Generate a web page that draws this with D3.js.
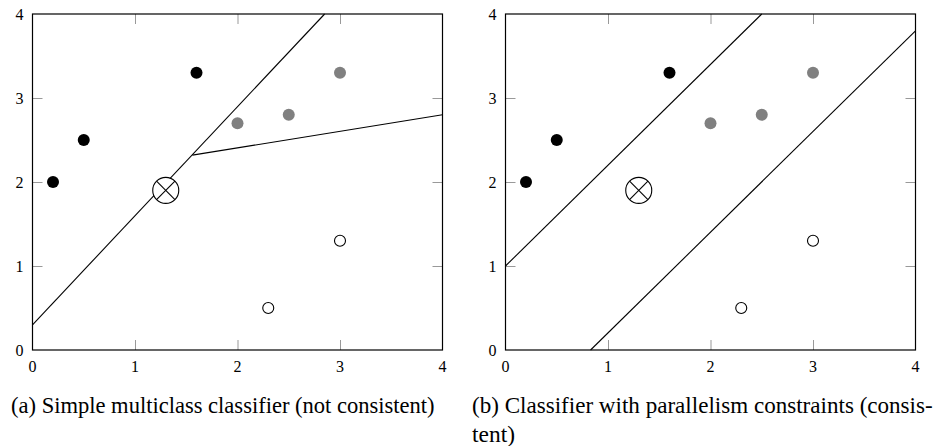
<!DOCTYPE html>
<html lang="en">
  <head>
    <title>Classifier comparison</title>
    <meta charset="utf-8" />
    <script src="https://d3js.org/d3.v7.min.js"></script>
    <style>
      body { margin: 0; background: #ffffff; }
    </style>
  </head>
  <body>
    <svg width="946" height="446" xmlns="http://www.w3.org/2000/svg" id="target" font-family="Liberation Serif"></svg>
    <script>
        // data
        const black_pts = [[0.2, 2.0], [0.5, 2.5], [1.6, 3.3]];
        const grey_pts = [[2.0, 2.7], [2.5, 2.8], [3.0, 3.3]];
        const open_pts = [[2.3, 0.5], [3.0, 1.3]];
        const query_pt = [[1.3, 1.9]];
        const ticks = [0, 1, 2, 3, 4];

        // boundaries of panel (a) and panel (b)
        const lines_a = [
          [[0, 0.3], [2.85, 4.0]],
          [[1.56, 2.32], [4.0, 2.8]]
        ];
        const lines_b = [
          [[0, 1.0], [2.5, 4.0]],
          [[0.83, 0], [4.0, 3.8]]
        ];

        const panels = [
          {left: 32.5, lines: lines_a},
          {left: 505.5, lines: lines_b}
        ];
        const plot_def = {
          width: 410,
          top: 14,
          bottom: 350,
          tick_len: 10,
          tick_color: "#999999"
        };
        const serif = "Liberation Serif";

        const svg = d3.select("#target");

        function drawPanel(p){
          const x = d3.scaleLinear().domain([0, 4]).range([p.left, p.left + plot_def.width]);
          const y = d3.scaleLinear().domain([0, 4]).range([plot_def.bottom, plot_def.top]);
          const g = svg.append("g");

          // inner tick marks on all four sides (labels drawn below)
          const axes = [
            {ax: d3.axisBottom(x), t: "translate(0," + plot_def.bottom + ")"},
            {ax: d3.axisTop(x), t: "translate(0," + plot_def.top + ")"},
            {ax: d3.axisLeft(y), t: "translate(" + p.left + ",0)"},
            {ax: d3.axisRight(y), t: "translate(" + (p.left + plot_def.width) + ",0)"}
          ];
          axes.forEach(a => {
            const ag = g.append("g")
              .attr("transform", a.t)
              .call(a.ax
                .tickValues(ticks.filter(d => d > 0 && d < 4))
                .tickSizeInner(-plot_def.tick_len)
                .tickSizeOuter(0))
            ;
            ag.select(".domain").remove();
            ag.selectAll(".tick text").remove();
            ag.selectAll(".tick line").attr("stroke", plot_def.tick_color).attr("stroke-width", 1);
          });

          g.selectAll("text.xl")
            .data(ticks).enter().append("text")
            .attr("class", "xl")
            .attr("x", d => x(d)).attr("y", plot_def.bottom + 22)
            .attr("text-anchor", "middle")
            .attr("font-family", serif).attr("font-size", 16)
            .attr("fill", "#000")
            .text(d => d);

          g.selectAll("text.yl")
            .data(ticks).enter().append("text")
            .attr("class", "yl")
            .attr("x", p.left - 9).attr("y", d => y(d) + 5.5)
            .attr("text-anchor", "end")
            .attr("font-family", serif).attr("font-size", 16)
            .attr("fill", "#000")
            .text(d => d);

          g.append("rect")
            .attr("x", x(0)).attr("y", y(4))
            .attr("width", x(4) - x(0)).attr("height", y(0) - y(4))
            .attr("fill", "none").attr("stroke", "#000").attr("stroke-width", 1.2);

          g.selectAll("line.bound")
            .data(p.lines)
            .enter()
            .append("line")
            .attr("class", "bound")
            .attr("x1", d => x(d[0][0])).attr("y1", d => y(d[0][1]))
            .attr("x2", d => x(d[1][0])).attr("y2", d => y(d[1][1]))
            .attr("stroke", "#000").attr("stroke-width", 1.1);

          g.selectAll("circle.blk")
            .data(black_pts).enter().append("circle")
            .attr("cx", d => x(d[0])).attr("cy", d => y(d[1]))
            .attr("r", 6).attr("fill", "#000");

          g.selectAll("circle.gry")
            .data(grey_pts).enter().append("circle")
            .attr("cx", d => x(d[0])).attr("cy", d => y(d[1]))
            .attr("r", 6).attr("fill", "#808080");

          g.selectAll("circle.opn")
            .data(open_pts).enter().append("circle")
            .attr("cx", d => x(d[0])).attr("cy", d => y(d[1]))
            .attr("r", 5.5).attr("fill", "#fff").attr("stroke", "#000").attr("stroke-width", 1.1);

          // crossed circle marker
          const q = g.selectAll("g.q")
            .data(query_pt).enter().append("g")
            .attr("transform", d => "translate(" + x(d[0]) + "," + y(d[1]) + ")");
          const r = 13, k = r * Math.SQRT1_2;
          q.append("circle").attr("r", r).attr("fill", "#fff").attr("stroke", "#000").attr("stroke-width", 1.1);
          q.append("line").attr("x1", -k).attr("y1", -k).attr("x2", k).attr("y2", k).attr("stroke", "#000").attr("stroke-width", 1.1);
          q.append("line").attr("x1", -k).attr("y1", k).attr("x2", k).attr("y2", -k).attr("stroke", "#000").attr("stroke-width", 1.1);
        }

        panels.forEach(drawPanel);

        // captions, squeezed horizontally to the widths in the picture
        const captions = [
          {t: "(a) Simple multiclass classifier (not consistent)", x: 11, y: 413, w: 424},
          {t: "(b) Classifier with parallelism constraints (consis-", x: 472, y: 413, w: 461},
          {t: "tent)", x: 472, y: 442, w: 43}
        ];
        svg.selectAll("text.cap")
          .data(captions).enter().append("text")
          .attr("class", "cap")
          .attr("font-family", serif)
          .attr("font-size", 24)
          .attr("fill", "#000")
          .text(d => d.t)
          .attr("transform", function(d){
            const sx = d.w / this.getComputedTextLength();
            return "translate(" + d.x + "," + d.y + ") scale(" + sx + ",1)";
          });
    </script>
</body>
</html>
